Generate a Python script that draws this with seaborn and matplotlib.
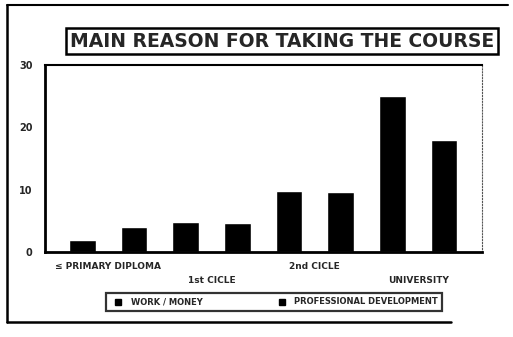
import pandas as pd
import matplotlib
matplotlib.use("Agg")
import matplotlib.pyplot as plt
from matplotlib.lines import Line2D
import seaborn as sns

# data
levels = ["\u2264 PRIMARY DIPLOMA", "1st CICLE", "2nd CICLE", "UNIVERSITY"]
reasons = ["WORK / MONEY", "PROFESSIONAL DEVELOPMENT"]
work_money = [2.0, 4.8, 9.8, 25.0]
prof_dev = [4.0, 4.6, 9.6, 18.0]
y_ticks = [0, 10, 20, 30]

df = pd.DataFrame({
    "level": levels * 2,
    "reason": [reasons[0]] * len(levels) + [reasons[1]] * len(levels),
    "value": work_money + prof_dev,
})

sns.set_style("white")
plt.rcParams["font.family"] = ["DejaVu Sans"]

fig = plt.figure(figsize=(5.13, 3.37), dpi=100)
ax = fig.add_axes([0.088, 0.252, 0.852, 0.555])

sns.barplot(data=df, x="level", y="value", hue="reason",
            palette=["black", "black"], width=1.0, gap=0.48,
            saturation=1, legend=False, ax=ax)

ax.set_xlim(-0.61, 3.62)
ax.set_ylim(0, 30)
ax.set_yticks(y_ticks)
ax.set_yticklabels([str(t) for t in y_ticks], fontsize=7, fontweight="bold")
ax.set_xlabel("")
ax.set_ylabel("")
ax.tick_params(axis="y", direction="in", length=4, width=1.5, pad=9)
ax.tick_params(axis="x", length=0)
for lbl in ax.get_xticklabels():
    lbl.set_fontsize(6.5)
    lbl.set_fontweight("bold")
for i, tick in enumerate(ax.xaxis.get_major_ticks()):
    tick.set_pad(7 if i % 2 == 0 else 17)

for side in ["left", "bottom"]:
    ax.spines[side].set_linewidth(2.0)
    ax.spines[side].set_color("black")
ax.spines["top"].set_linewidth(1.5)
ax.spines["top"].set_color("black")
ax.spines["right"].set_linewidth(0.8)
ax.spines["right"].set_linestyle(":")
ax.spines["right"].set_color("#555555")

# title in a box
fig.text(0.55, 0.878, "MAIN REASON FOR TAKING THE COURSE", ha="center", va="center",
         fontsize=13.5, fontweight="bold",
         bbox=dict(boxstyle="square,pad=0.2", fc="white", ec="black", lw=1.8))

# legend
handles = [Line2D([], [], marker="s", color="black", linestyle="", markersize=4)
           for _ in reasons]
leg = fig.legend(handles, reasons, loc="center", bbox_to_anchor=(0.534, 0.104),
                 ncol=2, fontsize=6, frameon=True, fancybox=False,
                 columnspacing=8.5, handletextpad=0.5, borderpad=0.5)
leg.get_frame().set_edgecolor("black")
leg.get_frame().set_linewidth(1.6)
for t in leg.get_texts():
    t.set_fontweight("bold")

# outer frame of the page
fig.add_artist(Line2D([0.014, 0.014], [0.045, 0.985], color="black", lw=1.8))
fig.add_artist(Line2D([0.014, 0.99], [0.985, 0.985], color="black", lw=1.5))
fig.add_artist(Line2D([0.014, 0.88], [0.045, 0.045], color="black", lw=1.8))

fig.savefig("out.png", dpi=100)
